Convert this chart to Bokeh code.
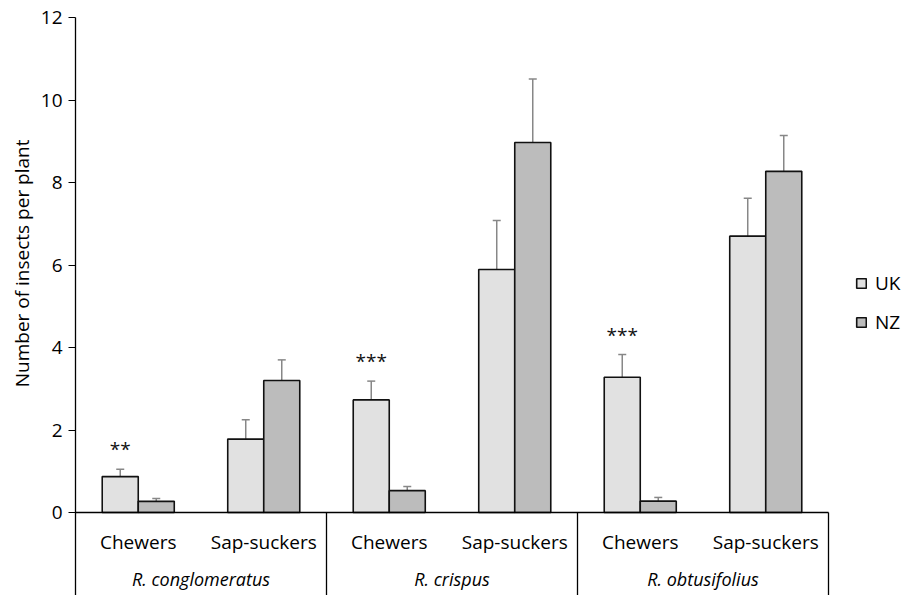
from bokeh.plotting import figure
from bokeh.models import (Range1d, FixedTicker, ColumnDataSource, Whisker, TeeHead,
                          Legend, LegendItem, Title)
from bokeh.core.properties import value
from bokeh.embed import file_html
from bokeh.resources import INLINE

# ---- data ----
species = ["R. conglomeratus", "R. crispus", "R. obtusifolius"]
groups = ["Chewers", "Sap-suckers"]
uk_mean = [0.87, 1.78, 2.73, 5.89, 3.28, 6.70]
uk_err = [0.18, 0.47, 0.455, 1.19, 0.55, 0.92]
nz_mean = [0.27, 3.20, 0.53, 8.97, 0.275, 8.27]
nz_err = [0.07, 0.50, 0.10, 1.54, 0.09, 0.87]
stars = ["**", "", "***", "", "***", ""]
y_ticks = [0, 2, 4, 6, 8, 10, 12]
y_title = "Number of insects per plant"

# ---- styles / layout ----
FONT = value("Open Sans")
FS = "19px"
UK_FILL = "#e1e1e1"
NZ_FILL = "#bcbcbc"
ERR_COL = "#878787"
BAR_W = 0.287
n_cat = len(species) * len(groups)

W, H = 913, 595
LEFT, TOP = 75, 17
FRAME_W_DATA = 753.0  # px spanned by the 6 categories
px_per_cat = FRAME_W_DATA / n_cat
x_end = (W - LEFT) / px_per_cat
px_per_unit = 41.25
y_max = y_ticks[-1]
y_start = -(H - TOP - y_max * px_per_unit) / px_per_unit

p = figure(width=W, height=H, output_backend="svg", toolbar_location=None,
           x_range=Range1d(0, x_end), y_range=Range1d(y_start, y_max),
           min_border_left=LEFT, min_border_right=0, min_border_top=TOP,
           min_border_bottom=0, outline_line_color=None)
p.xaxis.visible = False
p.xgrid.visible = False
p.ygrid.visible = False

centers = [i + 0.5 for i in range(n_cat)]
uk_x = [c - BAR_W / 2 for c in centers]
nz_x = [c + BAR_W / 2 for c in centers]

src_uk = ColumnDataSource(dict(x=uk_x, top=uk_mean,
                               upper=[m + e for m, e in zip(uk_mean, uk_err)],
                               lower=[m - e for m, e in zip(uk_mean, uk_err)],
                               stars=stars))
src_nz = ColumnDataSource(dict(x=nz_x, top=nz_mean,
                               upper=[m + e for m, e in zip(nz_mean, nz_err)],
                               lower=[m - e for m, e in zip(nz_mean, nz_err)]))

r_uk = p.vbar(x="x", top="top", bottom=0, width=BAR_W, source=src_uk,
              fill_color=UK_FILL, line_color="#111111", line_width=1.6)
r_nz = p.vbar(x="x", top="top", bottom=0, width=BAR_W, source=src_nz,
              fill_color=NZ_FILL, line_color="#111111", line_width=1.6)

for src in (src_uk, src_nz):
    w = Whisker(source=src, base="x", upper="upper", lower="lower",
                line_color=ERR_COL, line_width=1.5,
                upper_head=TeeHead(size=8, line_color=ERR_COL, line_width=1.5),
                lower_head=TeeHead(size=8, line_color=ERR_COL, line_width=1.5))
    p.add_layout(w)

# significance stars
p.text(x="x", y="upper", text="stars", source=src_uk, y_offset=-20,
       text_align="center", text_baseline="alphabetic", text_font=FONT,
       text_font_size="19px", text_color="#111111")

# x axis baseline and group separators
p.segment(x0=[0], y0=[0], x1=[n_cat], y1=[0], line_color="#000000", line_width=1.3)
sep_x = [len(groups) * (k + 1) for k in range(len(species))]
p.segment(x0=sep_x, y0=[0] * len(sep_x), x1=sep_x, y1=[y_start] * len(sep_x),
          line_color="#000000", line_width=1.3)

# category labels
p.text(x=centers, y=[0] * n_cat, text=groups * len(species), y_offset=29,
       text_align="center", text_baseline="alphabetic", text_font=FONT,
       text_font_size=FS, text_color="#000000")
sp_x = [len(groups) * k + len(groups) / 2 for k in range(len(species))]
p.text(x=sp_x, y=[0] * len(species), text=species, y_offset=66,
       text_align="center", text_baseline="alphabetic", text_font=FONT,
       text_font_size="18px", text_font_style="italic", text_color="#000000")

# y axis
ya = p.yaxis[0]
ya.ticker = FixedTicker(ticks=y_ticks)
ya.minor_tick_line_color = None
ya.major_tick_in = 0
ya.major_tick_out = 7
ya.major_label_standoff = 6
ya.axis_line_width = 1.3
ya.axis_line_color = "#000000"
ya.major_tick_line_color = "#000000"
ya.major_label_text_font = "Open Sans"
ya.major_label_text_font_size = FS
ya.major_label_text_color = "#000000"

# y axis title as a side title, placed so that it is centred on the 0..12 span
p.add_layout(Title(text=y_title, align="right", offset=122, standoff=6,
                   text_font="Open Sans", text_font_size=FS,
                   text_font_style="normal", text_color="#000000"), "left")

legend = Legend(items=[LegendItem(label="UK", renderers=[r_uk]),
                       LegendItem(label="NZ", renderers=[r_nz])],
                location=(780, 260), orientation="vertical",
                border_line_color=None, background_fill_alpha=0,
                padding=0, margin=0, spacing=13, label_height=26,
                glyph_height=12, glyph_width=12, label_standoff=8,
                label_text_font="Open Sans", label_text_font_size=FS,
                label_text_color="#000000")
p.add_layout(legend)

open("out.html", "w").write(file_html(p, INLINE))
